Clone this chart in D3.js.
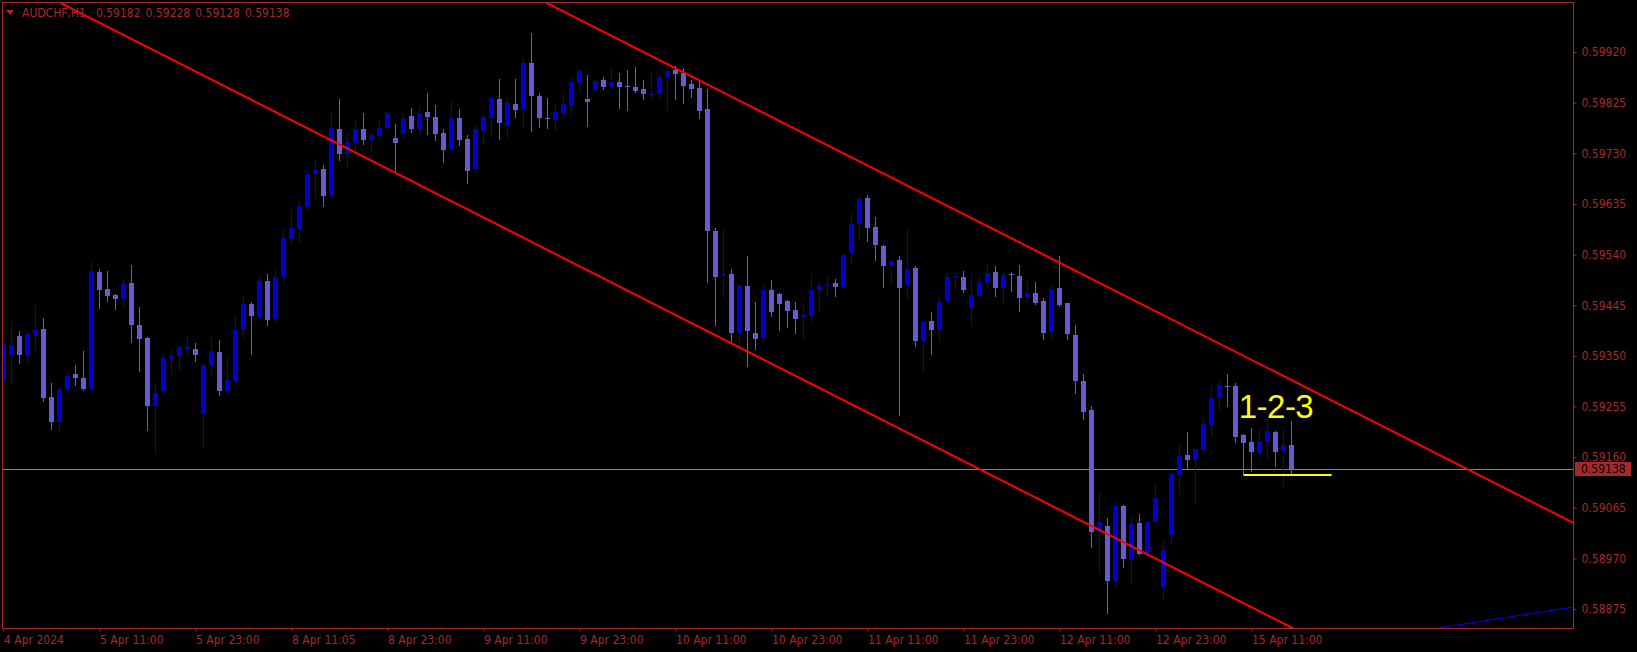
<!DOCTYPE html>
<html>
<head>
<meta charset="utf-8">
<script src="https://cdn.jsdelivr.net/npm/d3@7/dist/d3.min.js"></script>
<style>
  body { margin: 0; background: #000; overflow: hidden; }
</style>
</head>
<body>
<script>
// AUDCHF H1, bar 0 = 4 Apr 2024 23:00
var opens = [0.59300,0.59351,0.59387,0.59352,0.59388,0.59400,0.59272,0.59226,0.59288,0.59316,
  0.59308,0.59288,0.59507,0.59475,0.59464,0.59457,0.59487,0.59408,0.59383,0.59256,
  0.59284,0.59344,0.59350,0.59362,0.59363,0.59240,0.59333,0.59357,0.59284,0.59302,
  0.59399,0.59447,0.59423,0.59490,0.59419,0.59497,0.59569,0.59588,0.59629,0.59692,
  0.59701,0.59652,0.59776,0.59729,0.59750,0.59776,0.59754,0.59763,0.59778,0.59759,
  0.59767,0.59800,0.59776,0.59807,0.59798,0.59768,0.59737,0.59796,0.59757,0.59701,
  0.59772,0.59797,0.59832,0.59782,0.59822,0.59811,0.59899,0.59837,0.59796,0.59793,
  0.59806,0.59819,0.59862,0.59832,0.59849,0.59867,0.59854,0.59864,0.59856,0.59854,
  0.59851,0.59840,0.59842,0.59872,0.59886,0.59880,0.59860,0.59853,0.59813,0.59584,
  0.59502,0.59504,0.59393,0.59481,0.59393,0.59384,0.59474,0.59466,0.59453,0.59436,
  0.59422,0.59424,0.59474,0.59483,0.59487,0.59480,0.59542,0.59598,0.59646,0.59592,
  0.59556,0.59519,0.59530,0.59482,0.59515,0.59377,0.59416,0.59399,0.59452,0.59498,
  0.59498,0.59440,0.59463,0.59487,0.59507,0.59478,0.59503,0.59500,0.59459,0.59468,
  0.59453,0.59395,0.59477,0.59449,0.59389,0.59303,0.59248,0.59022,0.59031,0.58928,
  0.59069,0.58966,0.59037,0.58981,0.59039,0.58917,0.59013,0.59127,0.59164,0.59155,
  0.59174,0.59221,0.59270,0.59294,0.59293,0.59202,0.59189,0.59168,0.59189,0.59207,
  0.59172,0.59182];
var highs = [0.59375,0.59414,0.59396,0.59395,0.59445,0.59421,0.59299,0.59290,0.59317,0.59333,
  0.59359,0.59528,0.59513,0.59509,0.59466,0.59494,0.59520,0.59442,0.59385,0.59299,
  0.59355,0.59363,0.59370,0.59388,0.59374,0.59334,0.59385,0.59380,0.59346,0.59427,
  0.59462,0.59451,0.59500,0.59504,0.59513,0.59586,0.59626,0.59642,0.59697,0.59717,
  0.59708,0.59809,0.59832,0.59768,0.59791,0.59806,0.59768,0.59793,0.59809,0.59785,
  0.59804,0.59815,0.59819,0.59843,0.59821,0.59776,0.59826,0.59813,0.59764,0.59781,
  0.59802,0.59837,0.59869,0.59834,0.59869,0.59909,0.59956,0.59843,0.59834,0.59822,
  0.59841,0.59871,0.59888,0.59877,0.59867,0.59873,0.59892,0.59881,0.59886,0.59892,
  0.59867,0.59882,0.59877,0.59894,0.59894,0.59890,0.59867,0.59867,0.59851,0.59590,
  0.59586,0.59512,0.59485,0.59537,0.59451,0.59485,0.59492,0.59467,0.59454,0.59451,
  0.59445,0.59504,0.59490,0.59500,0.59494,0.59541,0.59618,0.59650,0.59652,0.59611,
  0.59557,0.59530,0.59537,0.59586,0.59519,0.59414,0.59433,0.59462,0.59505,0.59505,
  0.59509,0.59504,0.59496,0.59524,0.59519,0.59509,0.59507,0.59520,0.59490,0.59489,
  0.59459,0.59481,0.59537,0.59450,0.59408,0.59316,0.59256,0.59095,0.59046,0.59075,
  0.59071,0.59050,0.59054,0.59040,0.59112,0.59005,0.59130,0.59185,0.59207,0.59176,
  0.59232,0.59293,0.59305,0.59316,0.59299,0.59204,0.59215,0.59210,0.59235,0.59209,
  0.59211,0.59228];
var lows = [0.59292,0.59299,0.59337,0.59336,0.59360,0.59266,0.59213,0.59208,0.59283,0.59295,
  0.59286,0.59286,0.59440,0.59453,0.59438,0.59442,0.59376,0.59322,0.59211,0.59168,
  0.59279,0.59318,0.59325,0.59352,0.59341,0.59178,0.59316,0.59277,0.59279,0.59295,
  0.59384,0.59353,0.59419,0.59408,0.59415,0.59489,0.59560,0.59565,0.59624,0.59647,
  0.59632,0.59648,0.59718,0.59703,0.59727,0.59748,0.59735,0.59757,0.59774,0.59694,
  0.59761,0.59769,0.59765,0.59767,0.59755,0.59714,0.59736,0.59746,0.59675,0.59694,
  0.59750,0.59765,0.59757,0.59759,0.59798,0.59779,0.59772,0.59780,0.59778,0.59776,
  0.59797,0.59808,0.59851,0.59782,0.59847,0.59851,0.59853,0.59814,0.59812,0.59845,
  0.59832,0.59831,0.59831,0.59812,0.59831,0.59825,0.59836,0.59797,0.59489,0.59407,
  0.59459,0.59375,0.59350,0.59330,0.59362,0.59375,0.59425,0.59399,0.59405,0.59393,
  0.59382,0.59414,0.59433,0.59463,0.59463,0.59479,0.59525,0.59570,0.59566,0.59529,
  0.59480,0.59485,0.59239,0.59457,0.59369,0.59320,0.59354,0.59377,0.59448,0.59475,
  0.59470,0.59408,0.59462,0.59478,0.59463,0.59448,0.59472,0.59435,0.59450,0.59448,
  0.59382,0.59382,0.59444,0.59382,0.59281,0.59232,0.58992,0.58942,0.58867,0.58917,
  0.58953,0.58921,0.58978,0.58977,0.59038,0.58894,0.58998,0.59093,0.59140,0.59073,
  0.59168,0.59202,0.59251,0.59256,0.59189,0.59129,0.59133,0.59161,0.59161,0.59144,
  0.59105,0.59128];
var closes = [0.59373,0.59370,0.59352,0.59391,0.59398,0.59271,0.59226,0.59287,0.59313,0.59309,
  0.59288,0.59509,0.59474,0.59463,0.59457,0.59485,0.59408,0.59382,0.59255,0.59280,
  0.59346,0.59350,0.59367,0.59367,0.59352,0.59333,0.59359,0.59284,0.59305,0.59398,
  0.59447,0.59425,0.59490,0.59417,0.59498,0.59571,0.59590,0.59631,0.59691,0.59699,
  0.59650,0.59777,0.59729,0.59751,0.59776,0.59754,0.59764,0.59777,0.59806,0.59750,
  0.59794,0.59776,0.59806,0.59798,0.59767,0.59737,0.59796,0.59755,0.59697,0.59776,
  0.59798,0.59834,0.59787,0.59824,0.59811,0.59899,0.59838,0.59797,0.59794,0.59807,
  0.59822,0.59864,0.59884,0.59827,0.59866,0.59855,0.59864,0.59854,0.59855,0.59847,
  0.59842,0.59842,0.59873,0.59884,0.59879,0.59857,0.59851,0.59810,0.59585,0.59498,
  0.59504,0.59393,0.59481,0.59397,0.59382,0.59474,0.59433,0.59448,0.59435,0.59420,
  0.59426,0.59474,0.59481,0.59485,0.59480,0.59539,0.59597,0.59644,0.59590,0.59557,
  0.59519,0.59528,0.59478,0.59512,0.59377,0.59413,0.59399,0.59451,0.59498,0.59500,
  0.59474,0.59464,0.59489,0.59506,0.59478,0.59502,0.59501,0.59459,0.59468,0.59450,
  0.59393,0.59475,0.59446,0.59390,0.59302,0.59245,0.59020,0.59039,0.58928,0.59069,
  0.58968,0.59035,0.58979,0.59039,0.59084,0.58985,0.59129,0.59162,0.59155,0.59175,
  0.59223,0.59271,0.59295,0.59292,0.59198,0.59187,0.59170,0.59191,0.59209,0.59170,
  0.59183,0.59138];

var timeLabels = ["4 Apr 2024", "5 Apr 11:00", "5 Apr 23:00", "8 Apr 11:05", "8 Apr 23:00",
  "9 Apr 11:00", "9 Apr 23:00", "10 Apr 11:00", "10 Apr 23:00", "11 Apr 11:00",
  "11 Apr 23:00", "12 Apr 11:00", "12 Apr 23:00", "15 Apr 11:00"];
var barsPerLabel = 12;
var priceTicks = [0.59920, 0.59825, 0.59730, 0.59635, 0.59540, 0.59445,
  0.59350, 0.59255, 0.59160, 0.59065, 0.58970, 0.58875];

var symbol = "AUDCHF,H1";
var bid = 0.59138;

// trend lines as [bar, price] pairs
var upperLine = [[70, 0.59996], [190, 0.59084]];
var lowerLine = [[20, 0.59914], [160, 0.58848]];
var blueLine = [[180, 0.58841], [196, 0.58878]];
// yellow level + label
var patternText = "1-2-3";
var patternLevel = 0.59128;
var patternFrom = 155, patternTo = 166;
var patternTextBar = 154.4, patternTextPrice = 0.59233;

var W = 1637, H = 652;
var plotL = 2, plotR = 1573, plotT = 2, plotB = 628;
var fg = "#a8282a";
var font = "'DejaVu Sans Condensed', 'DejaVu Sans', sans-serif";

var svg = d3.select("body").append("svg").attr("width", W).attr("height", H);
svg.append("rect").attr("width", W).attr("height", H).style("fill", "#000");

// 8 px per bar
var x = d3.scaleLinear().domain([0, 200]).range([3.5, 3.5 + 8 * 200]);
var y = d3.scaleLinear().domain([priceTicks[0], priceTicks[priceTicks.length - 1]]).range([52, 609]);

svg.append("clipPath").attr("id", "plot")
  .append("rect").attr("x", plotL + 1).attr("y", plotT + 1)
  .attr("width", plotR - plotL - 1).attr("height", plotB - plotT - 1);

var plot = svg.append("g").attr("clip-path", "url(#plot)");

// bid line
plot.append("line")
  .attr("x1", plotL).attr("x2", plotR)
  .attr("y1", Math.round(y(bid)) + 0.5).attr("y2", Math.round(y(bid)) + 0.5)
  .attr("stroke", "#778899").attr("stroke-width", 1);

// candles
var bars = d3.range(opens.length);
var candles = plot.selectAll("g.c").data(bars).enter().append("g").attr("class", "c");

function col(i) { return closes[i] >= opens[i] ? "#0000cd" : "#6a5acd"; }

candles.append("line")
  .attr("x1", function(i) { return x(i); })
  .attr("x2", function(i) { return x(i); })
  .attr("y1", function(i) { return Math.round(y(highs[i])); })
  .attr("y2", function(i) { return Math.round(y(lows[i])) + 1; })
  .attr("stroke", col).attr("stroke-width", 1);

candles.append("rect")
  .attr("x", function(i) { return x(i) - 2.5; })
  .attr("width", 5)
  .attr("y", function(i) { return Math.round(y(Math.max(opens[i], closes[i]))); })
  .attr("height", function(i) {
    var t = Math.round(y(Math.max(opens[i], closes[i])));
    var b = Math.round(y(Math.min(opens[i], closes[i])));
    return Math.max(1, b - t);
  })
  .style("fill", col);

// trend lines
function trend(p, color, w) {
  var slope = (p[1][1] - p[0][1]) / (p[1][0] - p[0][0]);
  var b0 = -20, b1 = 220;
  plot.append("line")
    .attr("x1", x(b0)).attr("y1", y(p[0][1] + slope * (b0 - p[0][0])))
    .attr("x2", x(b1)).attr("y2", y(p[0][1] + slope * (b1 - p[0][0])))
    .attr("stroke", color).attr("stroke-width", w);
}
trend(upperLine, "#ff0000", 2);
trend(lowerLine, "#ff0000", 2);
trend(blueLine, "#0000ff", 1);

// yellow level
plot.append("line")
  .attr("x1", x(patternFrom)).attr("x2", x(patternTo))
  .attr("y1", Math.round(y(patternLevel)) + 1).attr("y2", Math.round(y(patternLevel)) + 1)
  .attr("stroke", "#ffff00").attr("stroke-width", 2);

plot.append("text")
  .attr("x", x(patternTextBar)).attr("y", y(patternTextPrice))
  .style("font-family", "'Liberation Sans', Arial, sans-serif")
  .style("font-size", "33px")
  .style("letter-spacing", "-0.5px")
  .style("fill", "#ffff00")
  .text(patternText);

// frame
svg.append("rect")
  .attr("x", plotL + 0.5).attr("y", plotT + 0.5)
  .attr("width", plotR - plotL).attr("height", plotB - plotT)
  .style("fill", "none").attr("stroke", fg).attr("stroke-width", 1);

// price axis
var yAxis = svg.append("g").attr("transform", "translate(" + (plotR + 0.5) + ",0)")
  .call(d3.axisRight(y).tickValues(priceTicks).tickSize(3).tickPadding(5)
    .tickFormat(d3.format(".5f")));
yAxis.select(".domain").remove();

// time axis
var xAxis = svg.append("g").attr("transform", "translate(0," + (plotB + 0.5) + ")")
  .call(d3.axisBottom(x).tickValues(timeLabels.map(function(d, i) { return i * barsPerLabel; }))
    .tickSize(3).tickPadding(4)
    .tickFormat(function(d) { return timeLabels[d / barsPerLabel]; }));
xAxis.select(".domain").remove();
xAxis.selectAll("text").attr("text-anchor", "start").attr("dx", 0);

svg.selectAll(".tick line").attr("stroke", fg);
svg.selectAll(".tick text")
  .style("font-family", font).style("font-size", "12px").attr("fill", fg);

// bid label
svg.append("rect")
  .attr("x", plotR + 2).attr("y", Math.round(y(bid)) - 7)
  .attr("width", 56).attr("height", 14)
  .style("fill", fg);
svg.append("text")
  .attr("x", plotR + 8).attr("y", y(bid)).attr("dy", "0.35em")
  .style("font-family", font).style("font-size", "12px").style("fill", "#000")
  .text(d3.format(".5f")(bid));

// title
svg.append("path").attr("d", "M6,10L14,10L10,15Z").style("fill", fg);
svg.append("text")
  .attr("x", 22).attr("y", 16.5)
  .style("font-family", font).style("font-size", "12px").style("fill", fg)
  .style("white-space", "pre")
  .style("word-spacing", "1.6px")
  .text(symbol + "  " + [opens[161], highs[161], lows[161], closes[161]].map(d3.format(".5f")).join(" "));
</script>
</body>
</html>
